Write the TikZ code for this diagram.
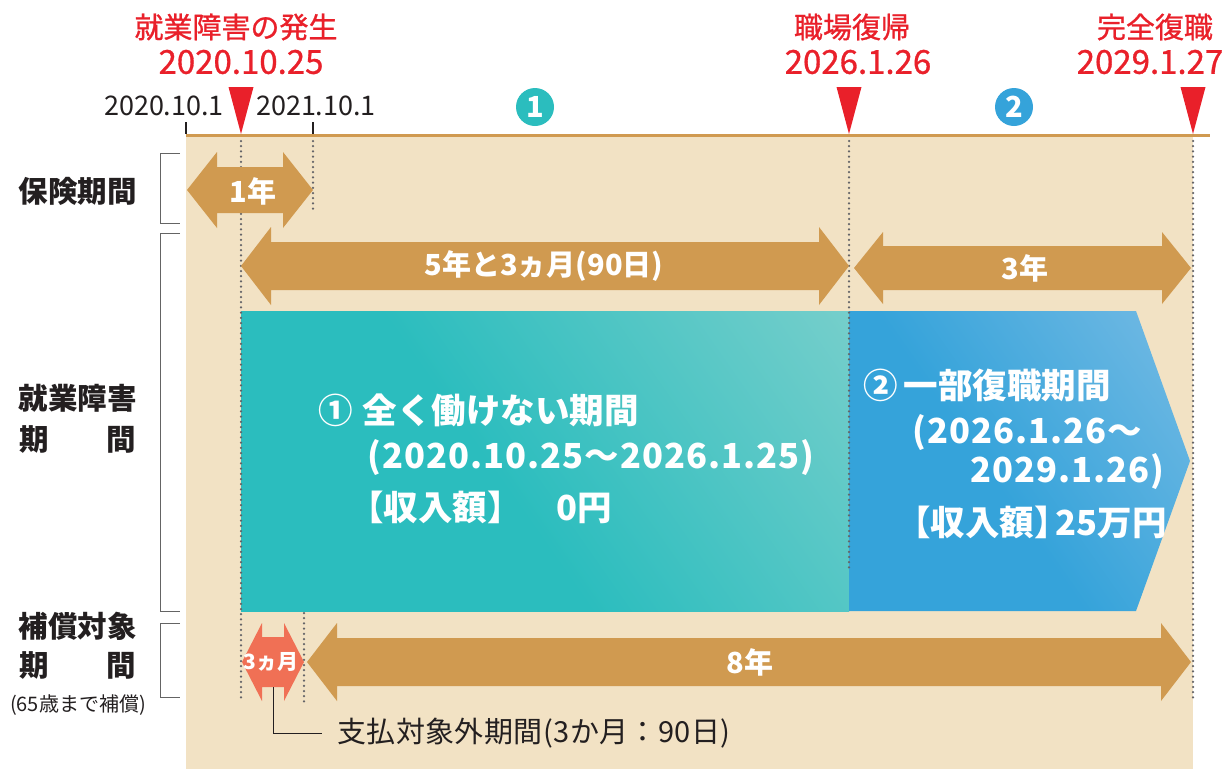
\documentclass[tikz,border=0pt]{standalone}
\usepackage{fontspec}
\setmainfont{Noto Sans CJK JP}
\usetikzlibrary{calc}
\definecolor{bgc}{RGB}{242,226,196}
\definecolor{arrowc}{RGB}{208,154,80}
\definecolor{redc}{RGB}{233,32,42}
\definecolor{darkc}{RGB}{35,31,32}
\definecolor{dotc}{RGB}{100,100,104}
\definecolor{brkc}{RGB}{100,100,100}
\definecolor{salmonc}{RGB}{240,112,85}
\definecolor{tealA}{RGB}{43,189,190}
\definecolor{tealB}{RGB}{146,213,208}
\definecolor{blueA}{RGB}{53,163,218}
\definecolor{blueB}{RGB}{142,196,232}
\pgfdeclarehorizontalshading{tealgrad}{100bp}{color(0bp)=(tealA); color(45bp)=(tealA); color(100bp)=(tealB)}
\pgfdeclarehorizontalshading{bluegrad}{100bp}{color(0bp)=(blueA); color(45bp)=(blueA); color(100bp)=(blueB)}
\newcommand{\fatarr}[7]{%
  \fill[#7] (#1,#3) -- ({#1+#6},{#3-#5}) -- ({#1+#6},{#3-#4}) -- ({#2-#6},{#3-#4}) -- ({#2-#6},{#3-#5}) -- (#2,#3)
    -- ({#2-#6},{#3+#5}) -- ({#2-#6},{#3+#4}) -- ({#1+#6},{#3+#4}) -- ({#1+#6},{#3+#5}) -- cycle;}
\newcommand{\wide}{\addfontfeature{LetterSpace=3}}
\newcommand{\medw}{\addfontfeature{FakeBold=0.9}}
\tikzset{
  dots/.style={draw=dotc, line width=2.5pt, line cap=round, dash pattern=on 0pt off 5.2pt},
  brk/.style={draw=brkc, line width=1pt},
  redlbl/.style={text=redc, font=\fontsize{29}{30}\selectfont\medw, inner sep=0pt},
  rednum/.style={text=redc, font=\fontsize{33}{34}\selectfont\medw, inner sep=0pt},
  datelbl/.style={text=darkc, font=\fontsize{27}{30}\selectfont, inner sep=0pt},
  sidelbl/.style={text=darkc, font=\bfseries\fontsize{29.5}{30}\selectfont, inner sep=0pt},
  arrlbl/.style={text=white, font=\bfseries\fontsize{29}{30}\selectfont, inner sep=0pt},
  boxtxt/.style={text=white, font=\bfseries\fontsize{34.5}{36}\selectfont, inner sep=0pt, anchor=west},
  numcirc/.style={circle, minimum size=38pt, inner sep=0pt, text=white, font=\bfseries\fontsize{29}{29}\selectfont},
  redmark/.style={fill=redc},
}
\begin{document}
\begin{tikzpicture}[x=1pt,y=-1pt]
\useasboundingbox (0,0) rectangle (1226,769);
% background
\fill[bgc] (186,135) rectangle (1193,769);
\draw[arrowc, line width=3pt] (186,135) -- (1210,135);
% ticks
\draw[darkc, line width=1.3pt] (186,122) -- (186,134);
\draw[darkc, line width=1.3pt] (313,122) -- (313,134);
% red markers
\fill[redmark] (228.5,87) -- (253.5,87) -- (241,134) -- cycle;
\fill[redmark] (836.5,87) -- (861.5,87) -- (849,134) -- cycle;
\fill[redmark] (1180.5,87) -- (1205.5,87) -- (1193,134) -- cycle;
% red labels
\node[redlbl] (ev1a) at (236,27) {就業障害の発生};
\node[rednum] (ev1b) at (241,62) {2020.10.25};
\node[redlbl] (ev2a) at (852,27) {職場復帰};
\node[rednum] (ev2b) at (858,62) {2026.1.26};
\node[redlbl] (ev3a) at (1155,27) {完全復職};
\node[rednum] (ev3b) at (1150,62) {2029.1.27};
% dates
\node[datelbl] (d1) at (164,106) {2020.10.1};
\node[datelbl] (d2) at (316,106) {2021.10.1};
% circles
\node[numcirc, fill=tealA] (c1) at (535,107) {1};
\node[numcirc, fill=blueA] (c2) at (1014,107) {2};
% side labels & brackets
\node[sidelbl] (s1) at (78,191) {保険期間};
\node[sidelbl] (s2a) at (78,398) {就業障害};
\node[sidelbl] (s2b) at (78,439) {\makebox[117pt]{期\hfill 間}};
\node[sidelbl] (s3a) at (78,626) {補償対象};
\node[sidelbl] (s3b) at (78,665) {\makebox[117pt]{期\hfill 間}};
\node[text=darkc, font=\fontsize{20}{20}\selectfont, inner sep=0pt] (s3c) at (78,705) {(65歳まで補償)};
\draw[brk] (180,153) -- (160,153) -- (160,223) -- (180,223);
\draw[brk] (180,233) -- (160,233) -- (160,611) -- (180,611);
\draw[brk] (180,623) -- (160,623) -- (160,697) -- (180,697);
% period boxes
\shade[shading=tealgrad, shading angle=35] (241,311) rectangle (849,611);
\shade[shading=bluegrad, shading angle=35] (849,311) -- (1136,311) -- (1190,461) -- (1136,611) -- (849,611) -- cycle;
% dotted guides
\draw[dots] (241,141) -- (241,702);
\draw[dots] (313,141) -- (313,213);
\draw[dots] (849,141) -- (849,568);
\draw[dots] (1193,141) -- (1193,702);
\draw[dots] (304,613) -- (304,705);
% fat arrows
\fatarr{187}{313}{190}{23}{38}{30}{arrowc}
\fatarr{241}{849}{266}{24}{39}{30}{arrowc}
\fatarr{854}{1191}{268}{22}{36}{29}{arrowc}
\fatarr{242}{304}{662}{25}{39}{20}{salmonc}
\fatarr{307}{1191}{662}{24}{39}{30}{arrowc}
\node[arrlbl] (a1) at (253,191) {1年};
\node[arrlbl] (a2) at (544,266) {5年と3ヵ月(90日)};
\node[arrlbl] (a3) at (1025,268) {3年};
\node[arrlbl] (a4) at (750,662) {8年};
\node[text=white, font=\bfseries\fontsize{21}{21}\selectfont, inner sep=0pt] (a5) at (271,662) {3ヵ月};
% box texts
\node[boxtxt] (t1a) at (318,410) {①\hspace{10pt}全く働けない期間};
\node[boxtxt] (t1b) at (367,458) {\wide(2020.10.25～2026.1.25)};
\node[boxtxt] (t1c) at (349,507) {【収入額】　0円};
\node[boxtxt] (t2a) at (863,385) {②\hspace{6pt}一部復職期間};
\node[boxtxt] (t2b) at (912,433) {\wide(2026.1.26～};
\node[boxtxt] (t2c) at (970,472) {\wide 2029.1.26)};
\node[boxtxt] (t2d) at (896,522) {【収入額】\hspace{-13pt}25万円};
% leader
\node[text=darkc, font=\fontsize{29}{30}\selectfont\addfontfeature{LetterSpace=1.5}, inner sep=0pt, anchor=west] (pay) at (337,733) {支払対象外期間(3か月：90日)};
\coordinate (lead) at (273,687);
\draw[darkc, line width=1pt] (lead) |- ([xshift=-15pt]pay.west);
\end{tikzpicture}
\end{document}
